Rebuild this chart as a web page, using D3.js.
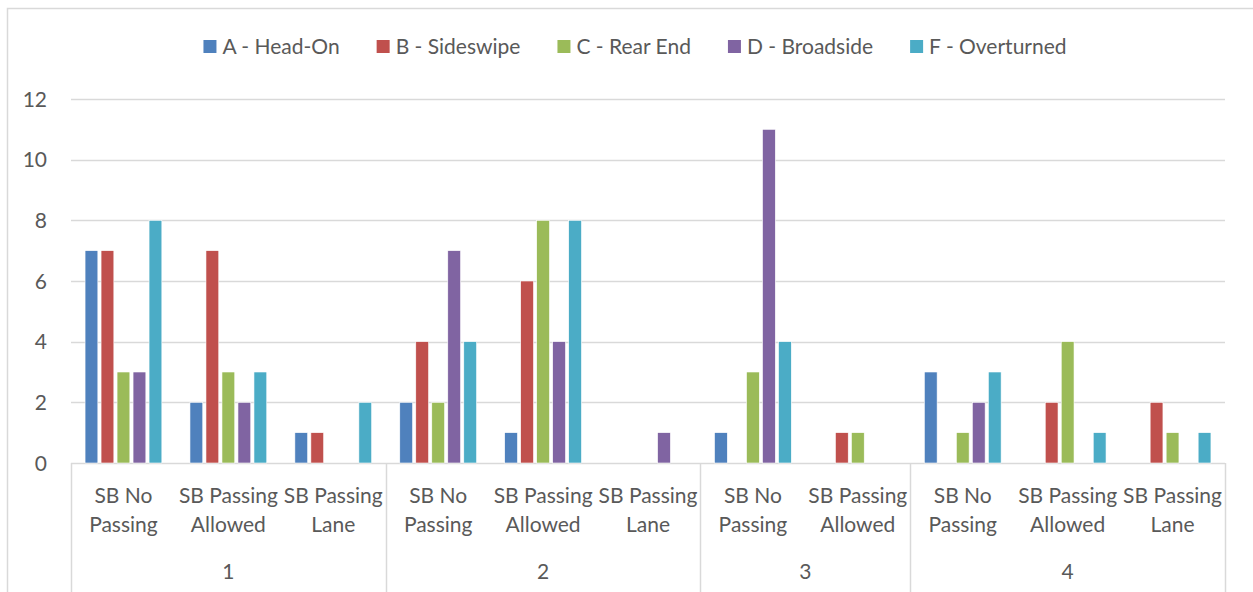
<!DOCTYPE html>
<html>
<head>
<meta charset="utf-8">
<script src="https://cdn.jsdelivr.net/npm/d3@7"></script>
<style>
  html, body { margin: 0; padding: 0; background: #fff; }
  svg { display: block; }
  text { font-family: Lato, "Open Sans", sans-serif; fill: #595959; }
</style>
</head>
<body>
<svg id="chart" width="1253" height="592"></svg>
<script>
// Collision types (legend order)
const series = ["A - Head-On", "B - Sideswipe", "C - Rear End", "D - Broadside", "F - Overturned"];
const colors = ["#4F81BD", "#C0504D", "#9BBB59", "#8064A2", "#4BACC6"];

// Segment groups and their sub-categories
const groups = ["1", "2", "3", "4"];
const subCategories = [
  ["SB No Passing", "SB Passing Allowed", "SB Passing Lane"],
  ["SB No Passing", "SB Passing Allowed", "SB Passing Lane"],
  ["SB No Passing", "SB Passing Allowed"],
  ["SB No Passing", "SB Passing Allowed", "SB Passing Lane"]
];

// Counts per series, one value per sub-category in order
const headOn     = [7, 2, 1,  2, 1, 0,  1, 0,  3, 0, 0];
const sideswipe  = [7, 7, 1,  4, 6, 0,  0, 1,  0, 2, 2];
const rearEnd    = [3, 3, 0,  2, 8, 0,  3, 1,  1, 4, 1];
const broadside  = [3, 2, 0,  7, 4, 1, 11, 0,  2, 0, 0];
const overturned = [8, 3, 2,  4, 8, 0,  4, 0,  3, 1, 1];

const yTicks = [0, 2, 4, 6, 8, 10, 12];

const seriesValues = [headOn, sideswipe, rearEnd, broadside, overturned];

const FONT = 21;

// Flatten the two-level category axis
const cats = [];
subCategories.forEach((subs, gi) => subs.forEach(s => cats.push({ group: groups[gi], gi, label: s, key: groups[gi] + "|" + s })));

const svg = d3.select("#chart");
const plot = { left: 71, right: 1225, top: 99, bottom: 463 };

// Chart frame
svg.append("rect")
  .attr("x", 7.5).attr("y", 8.5).attr("width", 1300).attr("height", 650)
  .attr("fill", "none").attr("stroke", "#d9d9d9").attr("stroke-width", 1.5);

const x = d3.scaleBand().domain(cats.map(c => c.key)).range([plot.left, plot.right]).padding(0);
const inner = d3.scaleBand().domain(series).range([-40, 40]).paddingInner(0.2).paddingOuter(0.1);
const y = d3.scaleLinear().domain([0, 12]).range([plot.bottom, plot.top]);

// Horizontal gridlines
svg.append("g").selectAll("line").data(yTicks).join("line")
  .attr("x1", plot.left).attr("x2", plot.right)
  .attr("y1", d => Math.round(y(d)) + 0.5).attr("y2", d => Math.round(y(d)) + 0.5)
  .attr("stroke", "#d9d9d9").attr("stroke-width", 1.5);

// Y axis labels
svg.append("g").selectAll("text").data(yTicks).join("text")
  .attr("x", 47).attr("y", d => y(d)).attr("dy", "0.36em")
  .attr("text-anchor", "end").attr("font-size", FONT)
  .text(d => d);

// Bars
seriesValues.forEach((vals, si) => {
  svg.append("g").selectAll("rect").data(vals.map((v, i) => ({ v, c: cats[i] }))).join("rect")
    .attr("x", d => x(d.c.key) + x.bandwidth() / 2 + inner(series[si]))
    .attr("width", inner.bandwidth())
    .attr("y", d => y(d.v))
    .attr("height", d => y(0) - y(d.v))
    .attr("fill", colors[si])
    .attr("stroke", "#fff").attr("stroke-width", 0.6);
});

// Category axis: vertical dividers between groups
const axisBottom = 592;
const boundaries = [plot.left];
let idx = 0;
subCategories.forEach(subs => { idx += subs.length; boundaries.push(idx < cats.length ? x(cats[idx].key) : plot.right); });
svg.append("g").selectAll("line").data(boundaries).join("line")
  .attr("x1", d => Math.round(d) + 0.5).attr("x2", d => Math.round(d) + 0.5)
  .attr("y1", plot.bottom).attr("y2", axisBottom)
  .attr("stroke", "#d9d9d9").attr("stroke-width", 1.5);

// Sub-category labels, wrapped on two lines
const labelLines = s => {
  const parts = s.split(" ");
  return [parts.slice(0, 2).join(" "), parts.slice(2).join(" ")];
};
svg.append("g").selectAll("text").data(cats).join("text")
  .attr("text-anchor", "middle").attr("font-size", FONT)
  .attr("x", d => x(d.key) + x.bandwidth() / 2)
  .each(function (d) {
    const lines = labelLines(d.label);
    const t = d3.select(this);
    lines.forEach((ln, i) => t.append("tspan")
      .attr("x", x(d.key) + x.bandwidth() / 2)
      .attr("y", 503 + i * 29).text(ln));
  });

// Group labels
svg.append("g").selectAll("text").data(groups).join("text")
  .attr("text-anchor", "middle").attr("font-size", FONT)
  .attr("x", (g, i) => (boundaries[i] + boundaries[i + 1]) / 2)
  .attr("y", 579)
  .text(d => d);

// Legend, centred above the plot
const legend = svg.append("g");
const items = legend.selectAll("g").data(series).join("g");
items.append("rect").attr("width", 13).attr("height", 13).attr("y", 40)
  .attr("fill", (d, i) => colors[i]);
items.append("text").attr("x", 19).attr("y", 46.5).attr("dy", "0.36em")
  .attr("font-size", FONT).text(d => d);
let cursor = 0;
const gap = 37;
items.each(function () {
  const w = 19 + d3.select(this).select("text").node().getComputedTextLength();
  d3.select(this).attr("transform", `translate(${cursor},0)`);
  cursor += w + gap;
});
const totalW = cursor - gap;
legend.attr("transform", `translate(${635 - totalW / 2},0)`);
</script>
</body>
</html>
